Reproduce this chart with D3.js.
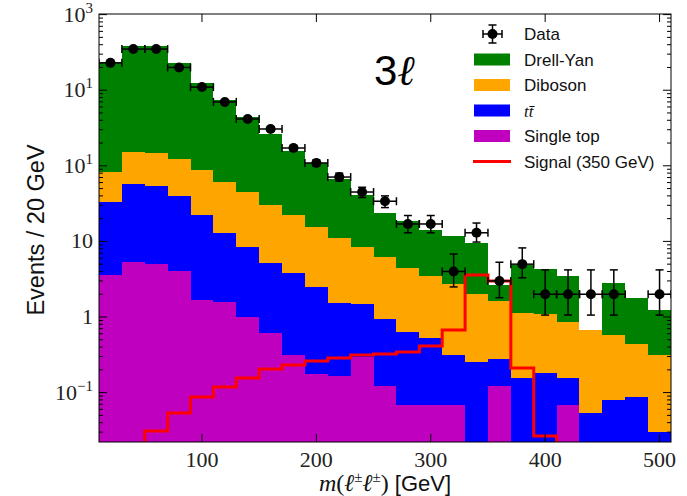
<!DOCTYPE html>
<html>
<head>
<meta charset="utf-8">
<script src="https://cdn.jsdelivr.net/npm/d3@7"></script>
<style>
  body { margin: 0; background: #fff; }
</style>
</head>
<body>
<script>
// bins: 20 GeV wide, low edges
var binLow = [10, 30, 50, 70, 90, 110, 130, 150, 170, 190, 210, 230, 250,
              270, 290, 310, 330, 350, 370, 390, 410, 430, 450, 470, 490];
var binWidth = 20;

// backgrounds (stacked)
var singleTop = [3.59, 5.34, 5.02, 4.06, 1.68, 1.58, 1.0, 0.614, 0.314, 0.176, 0.166, 0.296, 0.122,
                 0.0686, 0.0686, 0.0686, 0, 0.122, 0, 0, 0.0686, 0, 0, 0, 0];
var ttbar = [29.6, 52.1, 49.0, 35.8, 20.7, 11.3, 7.4, 4.57, 3.51, 2.31, 1.36, 1.19, 0.819,
             0.564, 0.458, 0.245, 0.254, 0.156, 0.156, 0.182, 0.087, 0.0537, 0.0798, 0.0875, 0.0301];
var diboson = [49.6, 94.6, 94, 83.1, 65.6, 48.1, 36.6, 25.1, 18.6, 13.0, 9.57, 6.91, 5.26,
               3.82, 2.96, 2.42, 1.76, 1.35, 0.974, 0.918, 0.702, 0.619, 0.498, 0.352, 0.284];
var drellYan = [2277, 3693, 3697, 2167, 1157, 681, 397, 234, 135, 93.5, 55.9, 32.6, 17.6,
                14.15, 10.7, 9.07, 7.49, 1.02, 3.74, 3.21, 2.63, 0, 2.24, 1.34, 0.926];

// signal (not stacked)
var signal = [0.01, 0.01, 0.031, 0.0537, 0.0875, 0.119, 0.156, 0.205, 0.232, 0.262, 0.287, 0.314, 0.324,
              0.344, 0.413, 0.673, 3.59, 2.99, 0.211, 0.0267, 0.01, 0.01, 0.01, 0.01, 0.01];

// data with error bar ends
var dataCounts = [2300, 3500, 3500, 2000, 1100, 700, 416, 307, 172, 109, 71, 45, 34,
                  17, 17, 4, 13, 3, 5, 2, 2, 2, 2, 0, 2];
var dataHi = [2350, 3560, 3560, 2045, 1135, 727, 437, 325, 186, 120, 80, 52, 40,
              22, 22, 6.8, 17.5, 5.3, 8.2, 4.2, 4.2, 4.2, 4.2, 0, 4.2];
var dataLo = [2250, 3440, 3440, 1955, 1065, 673, 396, 289, 159, 99, 63, 38, 28,
              13, 13, 2.5, 9.8, 1.8, 3.3, 1.06, 1.06, 1.06, 1.06, 0, 1.06];

// y tick labels as printed on the figure
var yTickValues = [10000, 1000, 100, 10, 1, 0.1];
var yTickBase = ["10", "10", "10", "10", "1", "10"];
var yTickSup = ["3", "1", "1", "", "", "\u22121"];
var xTickValues = [100, 200, 300, 400, 500];

var layers = ["singleTop", "ttbar", "diboson", "drellYan"];
var colors = { singleTop: "#bf00bf", ttbar: "#0000ff", diboson: "#ffa500", drellYan: "#008000" };

var table = binLow.map(function (b, i) {
  return { low: b, singleTop: singleTop[i], ttbar: ttbar[i], diboson: diboson[i], drellYan: drellYan[i] };
});

var W = 687, H = 496;
var pLeft = 99, pRight = 671, pTop = 14, pBottom = 442;

var svg = d3.select("body").append("svg")
  .attr("width", W).attr("height", H);

var x = d3.scaleLinear().domain([10, 510]).range([pLeft, pRight]);
var y = d3.scaleLog().domain([0.0222, 10190]).range([pBottom, pTop]);

svg.append("clipPath").attr("id", "plotclip")
  .append("rect").attr("x", pLeft).attr("y", pTop)
  .attr("width", pRight - pLeft).attr("height", pBottom - pTop);

var plot = svg.append("g").attr("clip-path", "url(#plotclip)");

// stacked histogram
var stacked = d3.stack().keys(layers)(table);
stacked.forEach(function (layer) {
  plot.append("g").selectAll("rect")
    .data(layer.filter(function (d) { return d[1] > d[0]; }))
    .enter().append("rect")
    .attr("x", function (d) { return x(d.data.low); })
    .attr("width", function (d) { return x(d.data.low + binWidth) - x(d.data.low); })
    .attr("y", function (d) { return y(d[1]); })
    .attr("height", function (d) {
      var lo = d[0] > 0 ? y(d[0]) : pBottom + 5;
      return lo - y(d[1]);
    })
    .attr("fill", colors[layer.key])
    .attr("shape-rendering", "crispEdges");
});

// signal step line
var sigPts = binLow.map(function (b, i) { return [b, signal[i]]; });
sigPts.push([510, signal[signal.length - 1]]);
var sigLine = d3.line()
  .x(function (d) { return x(d[0]); })
  .y(function (d) { return y(d[1]); })
  .curve(d3.curveStepAfter);
plot.append("path")
  .attr("d", sigLine(sigPts))
  .attr("fill", "none")
  .attr("stroke", "#ff0000")
  .attr("stroke-width", 3);

// data points
var pts = binLow.map(function (b, i) {
  return { c: b + binWidth / 2, n: dataCounts[i], hi: dataHi[i], lo: dataLo[i] };
}).filter(function (d) { return d.n > 0; });

var dg = plot.append("g").attr("stroke", "#000").attr("stroke-width", 1.5);
pts.forEach(function (d) {
  var cx = x(d.c), cy = y(d.n);
  var x0 = x(d.c - binWidth / 2), x1 = x(d.c + binWidth / 2);
  dg.append("line").attr("x1", x0).attr("x2", x1).attr("y1", cy).attr("y2", cy);
  dg.append("line").attr("x1", x0).attr("x2", x0).attr("y1", cy - 4).attr("y2", cy + 4);
  dg.append("line").attr("x1", x1).attr("x2", x1).attr("y1", cy - 4).attr("y2", cy + 4);
  dg.append("line").attr("x1", cx).attr("x2", cx).attr("y1", y(d.hi)).attr("y2", y(d.lo));
  dg.append("line").attr("x1", cx - 4).attr("x2", cx + 4).attr("y1", y(d.hi)).attr("y2", y(d.hi));
  dg.append("line").attr("x1", cx - 4).attr("x2", cx + 4).attr("y1", y(d.lo)).attr("y2", y(d.lo));
  dg.append("circle").attr("cx", cx).attr("cy", cy).attr("r", 5).attr("fill", "#000").attr("stroke", "none");
});

// frame
svg.append("rect").attr("x", pLeft).attr("y", pTop)
  .attr("width", pRight - pLeft).attr("height", pBottom - pTop)
  .attr("fill", "none").attr("stroke", "#000").attr("stroke-width", 1);

// ticks (pointing inward, mirrored)
var tg = svg.append("g").attr("stroke", "#000").attr("stroke-width", 1);
xTickValues.forEach(function (v) {
  tg.append("line").attr("x1", x(v)).attr("x2", x(v)).attr("y1", pBottom).attr("y2", pBottom - 8);
  tg.append("line").attr("x1", x(v)).attr("x2", x(v)).attr("y1", pTop).attr("y2", pTop + 8);
});
y.ticks().forEach(function (t) {
  var isMajor = Math.abs(Math.log10(t) - Math.round(Math.log10(t))) < 1e-6;
  var len = isMajor ? 8 : 4;
  var yy = y(t);
  if (yy < pTop - 0.5 || yy > pBottom + 0.5) return;
  tg.append("line").attr("x1", pLeft).attr("x2", pLeft + len).attr("y1", yy).attr("y2", yy);
  tg.append("line").attr("x1", pRight).attr("x2", pRight - len).attr("y1", yy).attr("y2", yy);
});

// tick labels
var serif = "'Liberation Serif', 'DejaVu Serif', serif";
var sans = "'Liberation Sans', Arial, sans-serif";
xTickValues.forEach(function (v) {
  svg.append("text").attr("x", x(v)).attr("y", pBottom + 25)
    .attr("text-anchor", "middle").attr("font-family", serif).attr("font-size", 22)
    .attr("fill", "#222").text(v);
});
yTickValues.forEach(function (v, i) {
  var t = svg.append("text").attr("x", pLeft - 6).attr("y", y(v) + 7)
    .attr("text-anchor", "end").attr("font-family", serif).attr("font-size", 22)
    .attr("fill", "#222");
  t.append("tspan").text(yTickBase[i]);
  if (yTickSup[i]) {
    t.append("tspan").attr("dy", -9).attr("font-size", 15).text(yTickSup[i]);
  }
});

// axis titles
svg.append("text")
  .attr("transform", "translate(44," + ((pTop + pBottom) / 2 + 2) + ") rotate(-90)")
  .attr("text-anchor", "middle").attr("font-family", sans).attr("font-size", 23.5)
  .attr("fill", "#111").text("Events / 20 GeV");

var xl = svg.append("text").attr("x", 385).attr("y", 491)
  .attr("text-anchor", "middle").attr("font-size", 24).attr("fill", "#111");
xl.append("tspan").attr("font-family", serif).attr("font-style", "italic").text("m");
xl.append("tspan").attr("font-family", serif).text("(");
xl.append("tspan").attr("font-family", serif).attr("font-style", "italic").text("\u2113");
xl.append("tspan").attr("font-family", serif).attr("font-size", 15).attr("dy", -9).text("\u00b1");
xl.append("tspan").attr("font-family", serif).attr("font-style", "italic").attr("dy", 9).text("\u2113");
xl.append("tspan").attr("font-family", serif).attr("font-size", 15).attr("dy", -9).text("\u00b1");
xl.append("tspan").attr("font-family", serif).attr("dy", 9).text(")");
xl.append("tspan").attr("font-family", sans).attr("font-size", 22).text(" [GeV]");

// channel label
var ch = svg.append("text").attr("x", 374).attr("y", 85)
  .attr("font-size", 42).attr("fill", "#000");
ch.append("tspan").attr("font-family", sans).text("3");
ch.append("tspan").attr("font-family", serif).attr("font-style", "italic").text("\u2113");

// legend
var legItems = [
  { type: "data", label: "Data" },
  { type: "patch", key: "drellYan", label: "Drell-Yan" },
  { type: "patch", key: "diboson", label: "Diboson" },
  { type: "patch", key: "ttbar", label: "tt\u0304", italic: true },
  { type: "patch", key: "singleTop", label: "Single top" },
  { type: "line", label: "Signal (350 GeV)" }
];
var lg = svg.append("g");
legItems.forEach(function (d, i) {
  var cy = 34 + i * 25.5;
  if (d.type === "data") {
    var eg = lg.append("g").attr("stroke", "#000").attr("stroke-width", 1.5);
    eg.append("line").attr("x1", 483).attr("x2", 502).attr("y1", cy).attr("y2", cy);
    eg.append("line").attr("x1", 483).attr("x2", 483).attr("y1", cy - 4).attr("y2", cy + 4);
    eg.append("line").attr("x1", 502).attr("x2", 502).attr("y1", cy - 4).attr("y2", cy + 4);
    eg.append("line").attr("x1", 492.5).attr("x2", 492.5).attr("y1", cy - 9).attr("y2", cy + 9);
    eg.append("line").attr("x1", 488.5).attr("x2", 496.5).attr("y1", cy - 9).attr("y2", cy - 9);
    eg.append("line").attr("x1", 488.5).attr("x2", 496.5).attr("y1", cy + 9).attr("y2", cy + 9);
    lg.append("circle").attr("cx", 492.5).attr("cy", cy).attr("r", 5).attr("fill", "#000");
  } else if (d.type === "patch") {
    lg.append("rect").attr("x", 474).attr("y", cy - 6).attr("width", 36).attr("height", 12)
      .attr("fill", colors[d.key]);
  } else {
    lg.append("line").attr("x1", 473).attr("x2", 511).attr("y1", cy).attr("y2", cy)
      .attr("stroke", "#ff0000").attr("stroke-width", 3);
  }
  var t = lg.append("text").attr("x", 524).attr("y", cy + 6)
    .attr("font-size", 17).attr("fill", "#111");
  if (d.italic) {
    t.attr("font-family", serif).attr("font-style", "italic").attr("font-size", 17).text(d.label);
  } else {
    t.attr("font-family", sans).text(d.label);
  }
});
</script>
</body>
</html>
